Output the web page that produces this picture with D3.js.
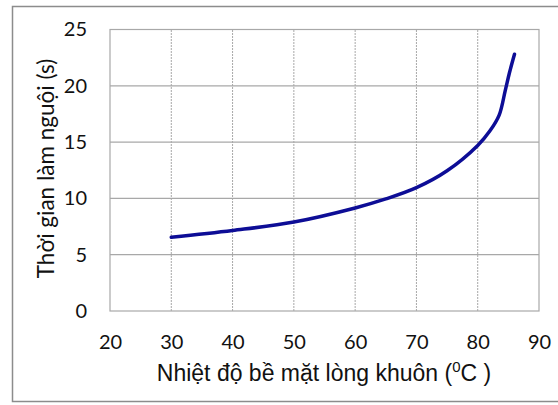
<!DOCTYPE html>
<html>
<head>
<meta charset="utf-8">
<script src="https://cdn.jsdelivr.net/npm/d3@7"></script>
<style>
  body { margin: 0; background: #fff; }
  svg { display: block; }
</style>
</head>
<body>
<div class="chart"></div>
<script>
const WIDTH = 558;
const HEIGHT = 405;

// nhiet do be mat long khuon (C) vs thoi gian lam nguoi (s)
const temps = [30, 40, 50, 60, 65, 70, 75, 80, 82, 83.5, 84.5, 85.2, 86];
const times = [6.55, 7.15, 7.9, 9.15, 9.95, 10.95, 12.45, 14.7, 16.0, 17.4, 19.6, 21.2, 22.8];

const xTicks = [20, 30, 40, 50, 60, 70, 80, 90];
const yTicks = [0, 5, 10, 15, 20, 25];

const margin = { top: 29.5, bottom: 94, left: 110, right: 19 };

const svg = d3.select(".chart")
  .append("svg")
  .attr("width", WIDTH)
  .attr("height", HEIGHT);

// outer frame
svg.append("rect")
  .attr("x", 12.5).attr("y", 6.5)
  .attr("width", WIDTH).attr("height", 395)
  .attr("fill", "#fff")
  .attr("stroke", "#8c8c8c")
  .attr("stroke-width", 1.5);

const x = d3.scaleLinear().domain([20, 90]).range([margin.left, WIDTH - margin.right]);
const y = d3.scaleLinear().domain([0, 25]).range([HEIGHT - margin.bottom, margin.top]);

const grid = svg.append("g");

// vertical dashed grid
grid.selectAll("line.v")
  .data(xTicks.slice(1, -1))
  .join("line")
  .attr("class", "v")
  .attr("x1", d => x(d)).attr("x2", d => x(d))
  .attr("y1", y(0)).attr("y2", y(25))
  .attr("stroke", "#a8a8a8")
  .attr("stroke-width", 1)
  .attr("stroke-dasharray", "2,1");

// horizontal solid grid
grid.selectAll("line.h")
  .data(yTicks.slice(1, -1))
  .join("line")
  .attr("class", "h")
  .attr("x1", x(20)).attr("x2", x(90))
  .attr("y1", d => y(d)).attr("y2", d => y(d))
  .attr("stroke", "#a8a8a8")
  .attr("stroke-width", 1.2);

// plot border
svg.append("rect")
  .attr("x", x(20)).attr("y", y(25))
  .attr("width", x(90) - x(20)).attr("height", y(0) - y(25))
  .attr("fill", "none")
  .attr("stroke", "#a8a8a8")
  .attr("stroke-width", 1.2);

const font = "'Liberation Sans', Arial, sans-serif";
const tickFont = "Lato, 'Open Sans', sans-serif";

// axes (labels only)
const xAxis = svg.append("g")
  .attr("transform", `translate(0,${y(0)})`)
  .call(d3.axisBottom(x).tickValues(xTicks).tickSize(0).tickPadding(24).tickFormat(d3.format("d")));
xAxis.select(".domain").remove();
xAxis.selectAll("text")
  .attr("font-family", tickFont)
  .attr("font-size", "20px")
  .attr("fill", "#111");

const yAxis = svg.append("g")
  .attr("transform", `translate(${x(20)},0)`)
  .call(d3.axisLeft(y).tickValues(yTicks).tickSize(0).tickPadding(23).tickFormat(d3.format("d")));
yAxis.select(".domain").remove();
yAxis.selectAll("text")
  .attr("font-family", tickFont)
  .attr("font-size", "20px")
  .attr("fill", "#111");

// curve
const line = d3.line()
  .x((d, i) => x(temps[i]))
  .y(d => y(d))
  .curve(d3.curveCatmullRom.alpha(0.5));

svg.append("path")
  .datum(times)
  .attr("d", line)
  .attr("fill", "none")
  .attr("stroke", "#0d0d96")
  .attr("stroke-width", 3.5)
  .attr("stroke-linecap", "round");

// axis titles
const xTitle = svg.append("text")
  .attr("x", 324)
  .attr("y", 381)
  .attr("text-anchor", "middle")
  .attr("font-family", font)
  .attr("font-size", "23px")
  .attr("fill", "#111");
xTitle.append("tspan").text("Nhiệt độ bề mặt lòng khuôn (");
xTitle.append("tspan").attr("font-size", "15px").attr("dy", -9).text("0");
xTitle.append("tspan").attr("dy", 9).text("C )");

svg.append("text")
  .attr("transform", "translate(54,168.5) rotate(-90)")
  .attr("text-anchor", "middle")
  .attr("font-family", tickFont)
  .attr("font-size", "22.5px")
  .attr("fill", "#111")
  .text("Thời gian làm nguội (s)");
</script>
</body>
</html>
